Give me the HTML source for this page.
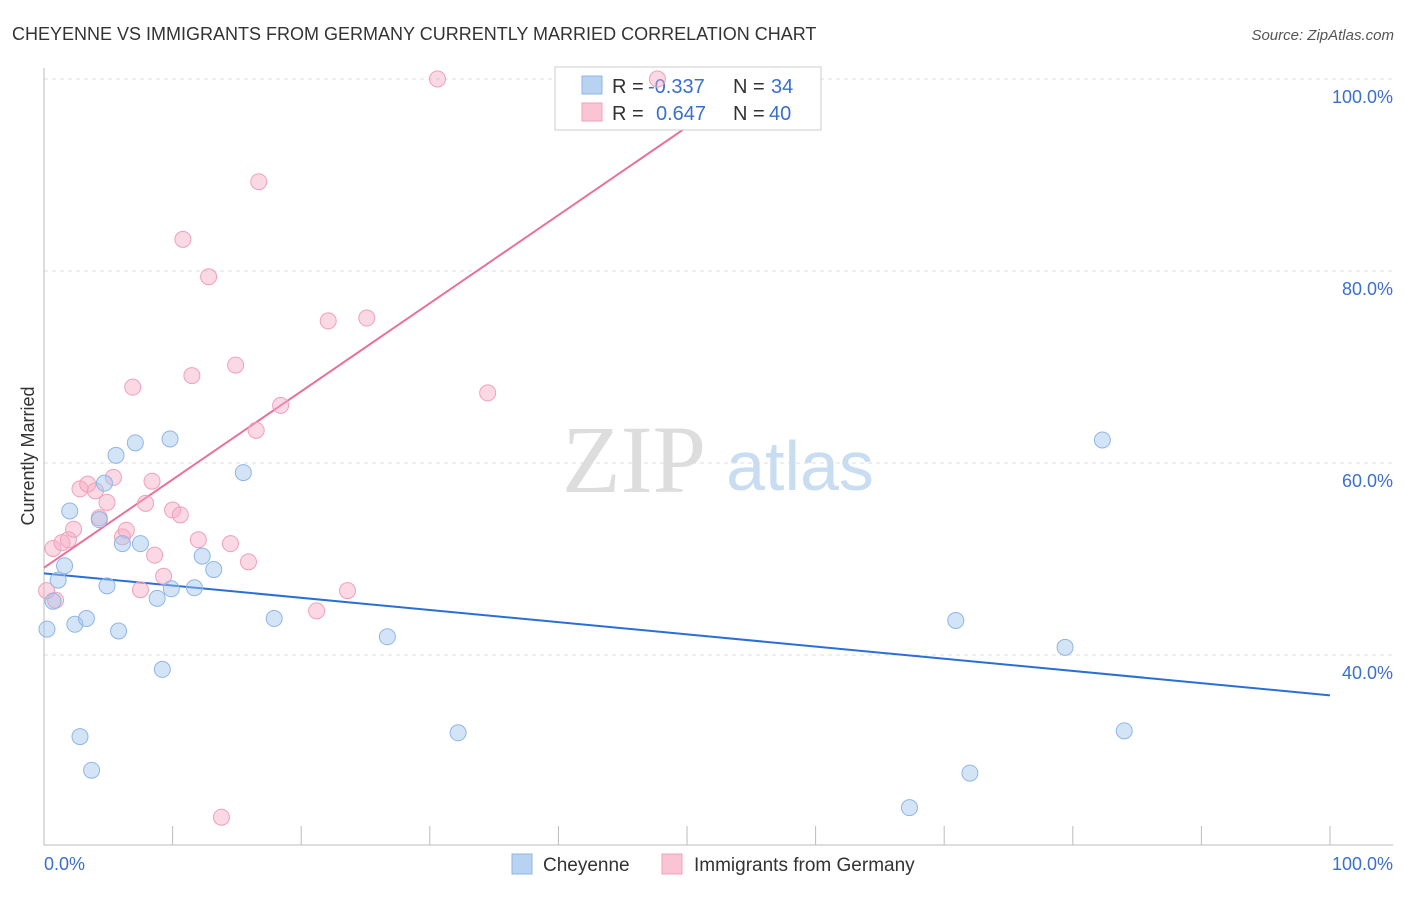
<!DOCTYPE html>
<html><head><meta charset="utf-8"><style>
body{margin:0;background:#fff;font-family:"Liberation Sans",sans-serif}
#c{position:relative;width:1406px;height:892px}
</style></head><body>
<div id="c">
<svg id="s" width="1406" height="892" xmlns="http://www.w3.org/2000/svg">
<text x="12" y="40" font-size="18" fill="#333">CHEYENNE VS IMMIGRANTS FROM GERMANY CURRENTLY MARRIED CORRELATION CHART</text>
<text x="1394" y="40" font-size="15" fill="#555" text-anchor="end" font-style="italic">Source: ZipAtlas.com</text>
<text x="34" y="456" font-size="18" fill="#333" text-anchor="middle" transform="rotate(-90 34 456)">Currently Married</text>
<text x="634" y="492" font-size="96" fill="#ddd" text-anchor="middle" font-family="Liberation Serif,serif">ZIP</text>
<text x="800" y="490" font-size="70" fill="#c8dcf2" text-anchor="middle">atlas</text>
<g id="grid"></g><g id="lines"></g>
<g>
<rect x="555" y="67" width="266" height="63" fill="#fff" stroke="#ccc"/>
<rect x="582" y="76" width="20" height="18" fill="#b8d2f2" stroke="#8fb6e6"/>
<rect x="582" y="103" width="20" height="18" fill="#f9c4d3" stroke="#f0a0b8"/>
<text x="612" y="93" font-size="20" fill="#333">R =</text>
<text x="648" y="93" font-size="20" fill="#3a6fd0">-0.337</text>
<text x="733" y="93" font-size="20" fill="#333">N =</text>
<text x="771" y="93" font-size="20" fill="#3a6fd0">34</text>
<text x="612" y="120" font-size="20" fill="#333">R =</text>
<text x="656" y="120" font-size="20" fill="#3a6fd0">0.647</text>
<text x="733" y="120" font-size="20" fill="#333">N =</text>
<text x="769" y="120" font-size="20" fill="#3a6fd0">40</text>
</g>
<g id="pts"></g>
<g>
<rect x="512" y="854" width="20" height="20" fill="#b8d2f2" stroke="#8fb6e6"/>
<text x="543" y="871" font-size="19" fill="#333">Cheyenne</text>
<rect x="662" y="854" width="20" height="20" fill="#f9c4d3" stroke="#f0a0b8"/>
<text x="694" y="871" font-size="19" fill="#333">Immigrants from Germany</text>
</g>
</svg></div>
<script>
const blueX=[0.23,0.7,1.1,1.6,2.0,2.4,2.8,3.3,3.7,4.3,4.7,4.9,5.6,5.8,6.1,7.1,7.5,8.8,9.2,9.8,9.9,11.7,12.3,13.2,15.5,17.9,26.7,32.2,67.3,70.9,72.0,79.4,82.3,84.0];
const blueY=[42.7,45.6,47.8,49.3,55.0,43.2,31.5,43.8,28.0,54.1,57.9,47.2,60.8,42.5,51.6,62.1,51.6,45.9,38.5,62.5,46.9,47.0,50.3,48.9,59.0,43.8,41.9,31.9,24.1,43.6,27.7,40.8,62.4,32.1];
const pinkX=[0.2,0.7,0.9,1.4,1.9,2.3,2.8,3.4,4.0,4.3,4.9,5.4,6.1,6.4,6.9,7.5,7.9,8.4,8.6,9.3,10.0,10.6,10.8,11.5,12.0,12.8,13.8,14.5,14.9,15.9,16.5,16.7,18.4,21.2,22.1,23.6,25.1,30.6,34.5,47.7];
const pinkY=[46.7,51.1,45.7,51.7,52.0,53.1,57.3,57.8,57.1,54.3,55.9,58.5,52.3,53.0,67.9,46.8,55.8,58.1,50.4,48.2,55.1,54.6,83.3,69.1,52.0,79.4,23.1,51.6,70.2,49.7,63.4,89.3,66.0,44.6,74.8,46.7,75.1,100,67.3,100];
const blueTrend=[48.5,35.8];
const pinkTrend=[49.1,0.918];
const yTicks=[40,60,80,100];
const xTickLabels=["0.0%","100.0%"];
const NS="http://www.w3.org/2000/svg";
const sx=v=>44+v*12.86, sy=v=>1039-v*9.6;
function mk(t,a,p){const e=document.createElementNS(NS,t);for(const k in a)e.setAttribute(k,a[k]);p.appendChild(e);return e;}
const g=document.getElementById('grid');
yTicks.forEach(t=>{
 const l=mk('line',{x1:44,x2:1393,y1:sy(t),y2:sy(t),stroke:'#ddd','stroke-dasharray':'4,4'},g);
 
 
 const tx=mk('text',{x:1393,y:sy(t)+24,'font-size':18,fill:'#3a6fd0','text-anchor':'end'},g);
 tx.textContent=t.toFixed(1)+'%';
 
 
});
const ax=mk('path',{d:'M44 68V845H1393',stroke:'#bbb',fill:'none'},g);


for(let i=1;i<=10;i++){const t=mk('line',{x1:sx(i*10),x2:sx(i*10),y1:826,y2:845,stroke:'#bbb'},g);
 
 }
[[0,'start',44],[100,'end',1393]].forEach((d,i)=>{const t=mk('text',{x:d[2],y:870,'font-size':18,fill:'#3a6fd0','text-anchor':d[1]},g);t.textContent=xTickLabels[i];
 
 });
const P=document.getElementById('pts');
pinkX.forEach((x,i)=>{const c=mk('circle',{cx:sx(x),cy:sy(pinkY[i]),r:8,fill:'rgba(246,170,195,0.45)',stroke:'#f0a0b8','stroke-width':1},P);
 
 });
blueX.forEach((x,i)=>{const c=mk('circle',{cx:sx(x),cy:sy(blueY[i]),r:8,fill:'rgba(160,195,238,0.45)',stroke:'#8fb6e6','stroke-width':1},P);
 
 });
const L=document.getElementById('lines');
const bl=mk('line',{x1:sx(0),y1:sy(blueTrend[0]),x2:sx(100),y2:sy(blueTrend[1]),stroke:'#2a6fd6','stroke-width':2},L);


const xe=(100-pinkTrend[0])/pinkTrend[1];
const pl=mk('line',{x1:sx(0),y1:sy(pinkTrend[0]),x2:sx(xe),y2:sy(100),stroke:'#e8709a','stroke-width':2},L);


</script>
</body></html>
